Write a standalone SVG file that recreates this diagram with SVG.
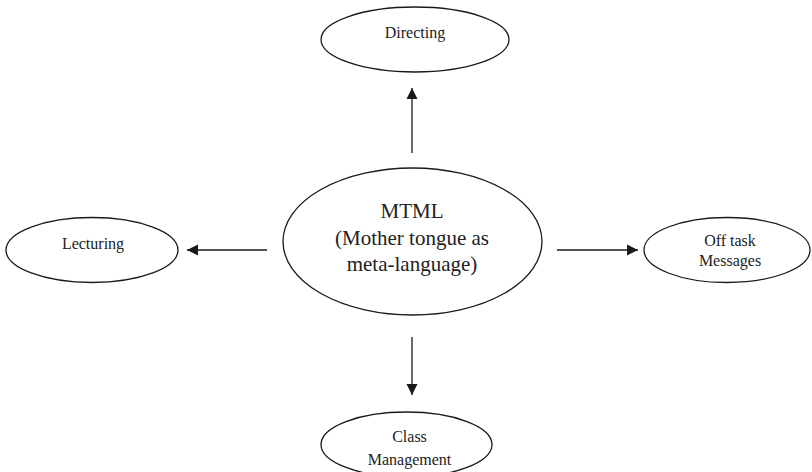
<svg xmlns="http://www.w3.org/2000/svg" width="812" height="472" viewBox="0 0 812 472">
<style>
.node ellipse{fill:#fff;stroke:#1a1a1a;stroke-width:1.3}
text{font-family:"Liberation Serif","Times New Roman",serif;fill:#222;text-anchor:middle}
.s{font-size:16px}
.l{font-size:21px}
.conn line{stroke:#1a1a1a;stroke-width:1.3;marker-end:url(#ah)}
</style>
<defs>
<marker id="ah" markerUnits="userSpaceOnUse" markerWidth="12" markerHeight="12" viewBox="0 0 12 12" refX="11" refY="6" orient="auto">
<path d="M0,0.5 L11,6 L0,11.5 Z" fill="#1a1a1a"/>
</marker>
</defs>
<rect width="812" height="472" fill="#fff"/>
<g class="conn" id="connectors">
<line x1="412" y1="153" x2="412" y2="88"/>
<line x1="267" y1="250" x2="187" y2="250"/>
<line x1="557" y1="250" x2="638" y2="250"/>
<line x1="412" y1="337" x2="412" y2="395"/>
</g>
<g class="node" id="mtml">
<ellipse cx="412.5" cy="241.5" rx="129.5" ry="73.5"/>
<text class="l" x="412" y="218">MTML</text>
<text class="l" x="412" y="245">(Mother tongue as</text>
<text class="l" x="412" y="271">meta-language)</text>
</g>
<g class="node" id="directing">
<ellipse cx="415" cy="39.5" rx="94" ry="32.5"/>
<text class="s" x="415" y="38">Directing</text>
</g>
<g class="node" id="lecturing">
<ellipse cx="92" cy="250" rx="86" ry="32.5"/>
<text class="s" x="93" y="249">Lecturing</text>
</g>
<g class="node" id="offtask">
<ellipse cx="727" cy="250" rx="83" ry="32.5"/>
<text class="s" x="730" y="246">Off task</text>
<text class="s" x="730" y="266">Messages</text>
</g>
<g class="node" id="class">
<ellipse cx="406.5" cy="444.5" rx="85.5" ry="32.5"/>
<text class="s" x="409.5" y="442">Class</text>
<text class="s" x="409.5" y="465">Management</text>
</g>
</svg>
